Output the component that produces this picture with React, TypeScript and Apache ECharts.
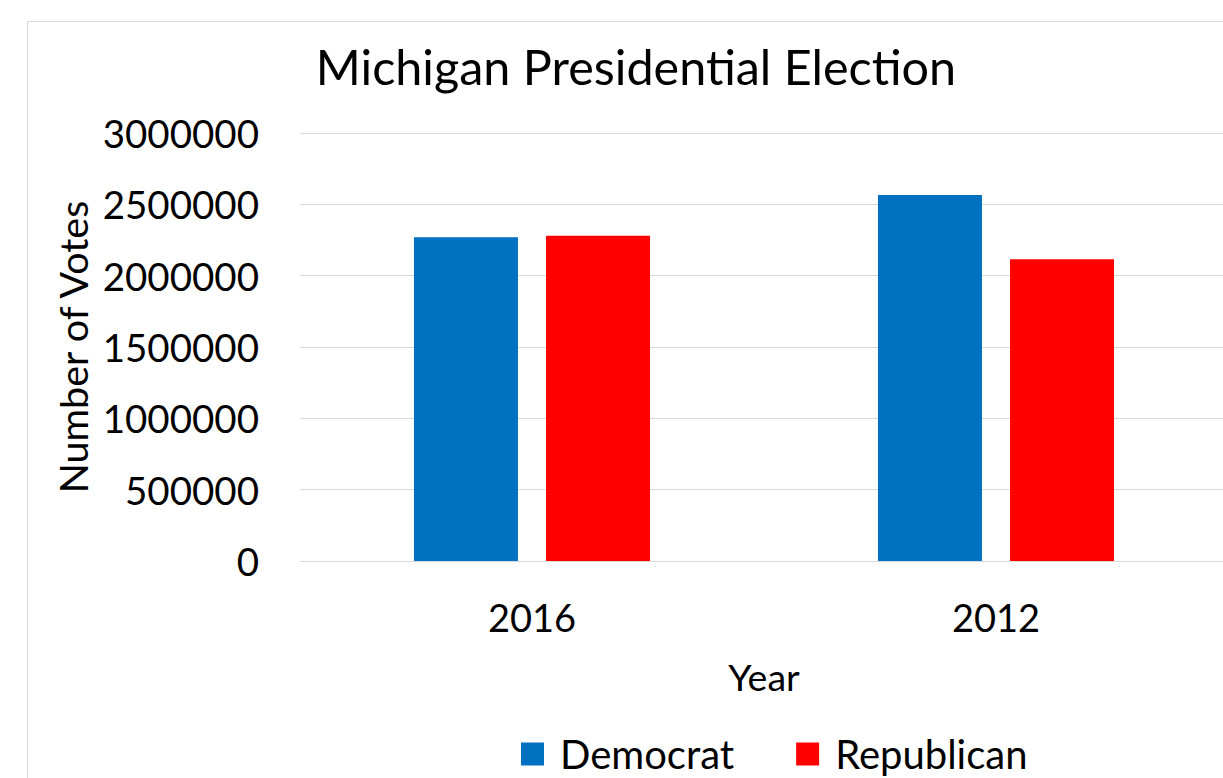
import React, { useEffect, useRef } from "react";
import * as echarts from "echarts";

const years = ["2016", "2012"];
const democrat = [2268839, 2564569];
const republican = [2279543, 2115256];
const yTicks = { min: 0, max: 3000000, interval: 500000 };

const FONT = "Lato";

export default function App() {
  const ref = useRef<HTMLDivElement>(null);
  useEffect(() => {
    if (!ref.current) return;
    const chart = echarts.init(ref.current, undefined, { renderer: "svg" });
    chart.setOption({
      animation: false,
      backgroundColor: "#ffffff",
      textStyle: { fontFamily: FONT, color: "#000" },
      title: {
        text: "Michigan Presidential Election",
        left: 631,
        textAlign: "center",
        top: 36,
        textStyle: { fontFamily: FONT, fontSize: 48.5, fontWeight: "normal", color: "#000" },
      },
      graphic: [
        {
          type: "rect",
          z: -10,
          shape: { x: 27.5, y: 21.5, width: 1400, height: 1000 },
          style: { fill: "none", stroke: "#d9d9d9", lineWidth: 1 },
        },
      ],
      legend: {
        left: 516,
        top: 729,
        itemWidth: 23,
        itemHeight: 23,
        itemGap: 62,
        icon: "rect",
        textStyle: { fontFamily: FONT, fontSize: 40, color: "#000", padding: [0, 0, 0, 11] },
        data: ["Democrat", "Republican"],
      },
      grid: { left: 300, top: 133, width: 928, height: 428 },
      xAxis: {
        type: "category",
        data: years,
        name: "Year",
        nameLocation: "middle",
        nameGap: 96,
        nameMoveOverlap: false,
        nameTextStyle: { fontFamily: FONT, fontSize: 37.5, color: "#000" },
        axisLine: { show: true, lineStyle: { color: "#d9d9d9" } },
        axisTick: { show: false },
        axisLabel: { fontFamily: FONT, fontSize: 38, color: "#000", margin: 37 },
      },
      yAxis: {
        type: "value",
        min: yTicks.min,
        max: yTicks.max,
        interval: yTicks.interval,
        name: "Number of Votes",
        nameLocation: "middle",
        nameRotate: 90,
        nameGap: 208,
        nameMoveOverlap: false,
        nameTextStyle: { fontFamily: FONT, fontSize: 39.5, color: "#000" },
        axisLine: { show: false },
        axisTick: { show: false },
        splitLine: { lineStyle: { color: "#d9d9d9", width: 1 } },
        axisLabel: {
          fontFamily: FONT,
          fontSize: 38.5,
          color: "#000",
          margin: 41,
          formatter: (v: number) => String(v),
        },
      },
      series: [
        {
          name: "Democrat",
          type: "bar",
          data: democrat,
          barWidth: 104,
          barGap: "27%",
          itemStyle: { color: "#0070C0" },
        },
        {
          name: "Republican",
          type: "bar",
          data: republican,
          barWidth: 104,
          barGap: "27%",
          itemStyle: { color: "#FF0000" },
        },
      ],
    });
    return () => chart.dispose();
  }, []);
  return (
    <div
      style={{
        position: "fixed",
        left: 0,
        top: 0,
        width: 1223,
        height: 778,
        overflow: "hidden",
        background: "#fff",
      }}
    >
      <div ref={ref} style={{ width: 1240, height: 778 }} />
    </div>
  );
}
